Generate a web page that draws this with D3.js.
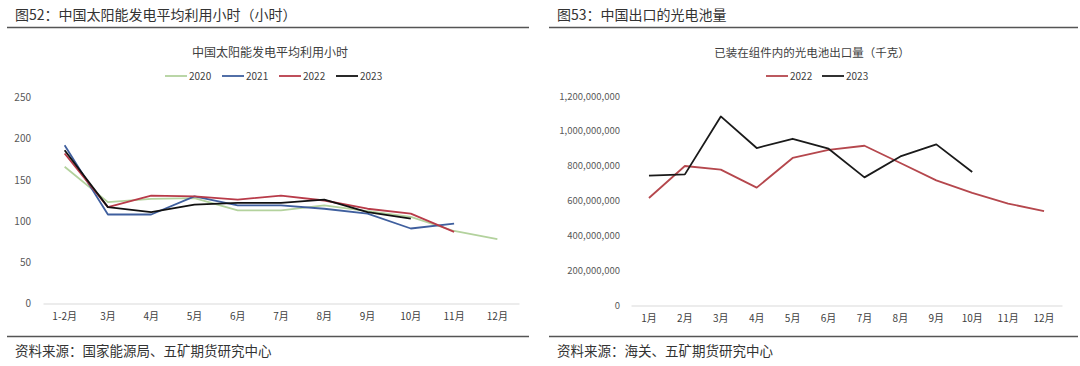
<!DOCTYPE html>
<html>
<head>
<meta charset="utf-8">
<script src="https://cdn.jsdelivr.net/npm/d3@7"></script>
<style>
body{margin:0;background:#fff;font-family:"Noto Sans CJK SC","Noto Sans",sans-serif;}
</style>
</head>
<body>
<script>
// chart 52: solar utilisation hours
var months52=["1-2月","3月","4月","5月","6月","7月","8月","9月","10月","11月","12月"]
var hours2020=[166,123,127,128,113,113,119,112,105,88,78]
var hours2021=[192,108,108,130,119,119,115,109,91,97]
var hours2022=[182,117,131,130,126,131,125,115,109,87]
var hours2023=[186,117,111,120,122,122,126,111,103]
var ticks52=[0,50,100,150,200,250]

// chart 53: pv cell exports (kg)
var months53=["1月","2月","3月","4月","5月","6月","7月","8月","9月","10月","11月","12月"]
var cells2022=[616e6,799e6,778e6,675e6,845e6,892e6,915e6,816e6,717e6,645e6,584e6,540e6]
var cells2023=[744e6,751e6,1083e6,902e6,955e6,898e6,734e6,854e6,923e6,765e6]
var ticks53=[0,2e8,4e8,6e8,8e8,1e9,1.2e9]

var svg=d3.select("body").append("svg").attr("width",1080).attr("height",366)

var drawPanel=function(opt){
  var g=svg.append("g")
  // header + rules
  g.append("text").attr("x",opt.x0+8).attr("y",20).attr("font-size",14).attr("fill","#333").text(opt.header)
  g.append("line").attr("x1",opt.x0).attr("x2",opt.x1).attr("y1",27.5).attr("y2",27.5).attr("stroke","#555").attr("stroke-width",1.5)
  g.append("line").attr("x1",opt.x0).attr("x2",opt.x1).attr("y1",336.5).attr("y2",336.5).attr("stroke","#555").attr("stroke-width",1.5)
  g.append("text").attr("x",opt.x0+8).attr("y",356).attr("font-size",13.5).attr("fill","#333").text(opt.source)
  // chart title
  g.append("text").attr("x",opt.titleX).attr("y",57).attr("text-anchor","middle").attr("font-size",opt.titleFont).attr("fill","#404040").text(opt.title)

  var xScale=d3.scaleBand().domain(opt.cats).range(opt.xr)
  var yScale=d3.scaleLinear().domain(opt.yd).range(opt.yr)

  var yAxis=d3.axisLeft(yScale).tickValues(opt.ticks).tickSize(0).tickPadding(0).tickFormat(opt.fmt)
  var ya=g.append("g").attr("transform","translate("+opt.yLabelX+",0)").call(yAxis)
  ya.select(".domain").remove()
  ya.selectAll("text").attr("font-size",opt.yFont).attr("fill","#595959").attr("font-family","'Noto Sans CJK SC',sans-serif")

  var xAxis=d3.axisBottom(xScale).tickSize(0).tickPadding(9)
  var xa=g.append("g").attr("transform","translate(0,"+opt.yr[0]+")").call(xAxis)
  xa.select(".domain").attr("stroke","#d9d9d9").attr("stroke-width",1.2)
  xa.selectAll("text").attr("font-size",10).attr("fill","#404040").attr("font-family","'Noto Sans CJK SC',sans-serif")

  var line=d3.line()
    .x(function(d,i){return xScale(opt.cats[i])+xScale.bandwidth()/2})
    .y(function(d){return yScale(d)})
  opt.series.forEach(function(s){
    g.append("path").datum(s.values).attr("d",line).attr("fill","none")
     .attr("stroke",s.color).attr("stroke-width",1.8).attr("stroke-linejoin","round")
  })
  // legend
  var lg=g.append("g").attr("transform","translate("+opt.legendX+",76)")
  var item=lg.selectAll("g").data(opt.series).enter().append("g")
    .attr("transform",function(d,i){return "translate("+(i*opt.legendStep)+",0)"})
  item.append("line").attr("x1",0).attr("x2",22).attr("y1",0).attr("y2",0)
    .attr("stroke",function(d){return d.color}).attr("stroke-width",1.8)
  item.append("text").attr("x",24).attr("y",3.5).attr("font-size",10).attr("fill","#404040").text(function(d){return d.name})
}

drawPanel({
  x0:7,x1:529,
  header:"图52：中国太阳能发电平均利用小时（小时）",
  source:"资料来源：国家能源局、五矿期货研究中心",
  title:"中国太阳能发电平均利用小时",titleX:270,titleFont:12,
  cats:months52,xr:[43,519],
  yd:[0,250],yr:[303.5,97.5],ticks:ticks52,fmt:d3.format("d"),yLabelX:31,yFont:10,
  legendX:165,legendStep:57,
  series:[
    {name:"2020",values:hours2020,color:"#b3d29d"},
    {name:"2021",values:hours2021,color:"#3f5f9e"},
    {name:"2022",values:hours2022,color:"#b83b49"},
    {name:"2023",values:hours2023,color:"#111"}
  ]
})

drawPanel({
  x0:549,x1:1078,
  header:"图53：中国出口的光电池量",
  source:"资料来源：海关、五矿期货研究中心",
  title:"已装在组件内的光电池出口量（千克）",titleX:812,titleFont:11.5,
  cats:months53,xr:[631,1062],
  yd:[0,1.2e9],yr:[305.5,96],ticks:ticks53,fmt:d3.format(","),yLabelX:620,yFont:9.5,
  legendX:766,legendStep:56,
  series:[
    {name:"2022",values:cells2022,color:"#b5474d"},
    {name:"2023",values:cells2023,color:"#1a1a1a"}
  ]
})
</script>
</body>
</html>
